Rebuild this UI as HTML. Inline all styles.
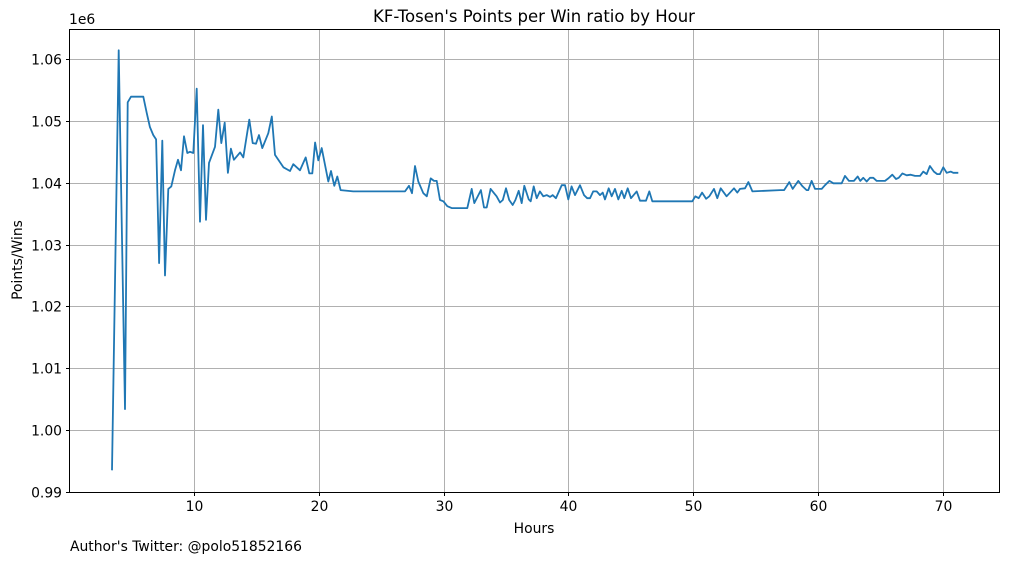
<!DOCTYPE html>
<html><head><meta charset="utf-8"><style>
body{margin:0;background:#fff}
svg text{font-family:"DejaVu Sans","Liberation Sans",sans-serif;fill:#000}
</style></head><body>
<svg id="chart" width="1010" height="562" xmlns="http://www.w3.org/2000/svg">
<rect x="0" y="0" width="1010" height="562" fill="#fff"/>
<g id="grid"></g>
<g id="xticks"></g>
<g id="yticks"></g>
<path id="line" fill="none" stroke="#1f77b4" stroke-width="1.8" stroke-linejoin="round"/>
<rect x="69.5" y="29.5" width="930" height="463" fill="none" stroke="#000" stroke-width="1"/>
<text x="534" y="22" text-anchor="middle" font-size="16.5">KF-Tosen's Points per Win ratio by Hour</text>
<text x="69" y="24" font-size="13.9">1e6</text>
<text x="534" y="533" text-anchor="middle" font-size="13.9">Hours</text>
<text transform="translate(22,260) rotate(-90)" text-anchor="middle" font-size="13.9">Points/Wins</text>
<text x="70" y="551" font-size="13.9">Author's Twitter: @polo51852166</text>
</svg>
<script>
const hours=[3.43,3.97,4.47,4.69,4.95,5.94,6.21,6.47,6.74,6.96,7.20,7.46,7.68,7.94,8.18,8.48,8.72,8.96,9.20,9.46,9.68,9.94,10.22,10.48,10.72,10.96,11.20,11.68,11.95,12.19,12.46,12.72,12.96,13.20,13.69,13.95,14.43,14.70,14.97,15.21,15.47,15.95,16.23,16.49,17.16,17.69,17.96,18.49,18.95,19.24,19.48,19.70,19.96,20.23,20.76,20.98,21.24,21.48,21.75,22.76,26.91,27.23,27.47,27.71,27.97,28.37,28.65,28.97,29.23,29.45,29.71,29.98,30.30,30.65,31.90,32.25,32.46,32.99,33.24,33.45,33.77,34.25,34.52,34.74,35.00,35.26,35.54,35.75,36.02,36.26,36.47,36.82,36.98,37.22,37.46,37.72,37.99,38.26,38.53,38.74,39.00,39.46,39.73,39.99,40.26,40.53,40.93,41.25,41.51,41.73,41.99,42.27,42.53,42.75,42.93,43.23,43.47,43.73,44.00,44.27,44.48,44.75,45.02,45.47,45.74,46.22,46.48,46.72,49.93,50.17,50.44,50.71,51.03,51.29,51.67,51.93,52.20,52.68,53.27,53.53,53.75,54.15,54.42,54.74,56.96,57.28,57.70,57.97,58.42,58.77,59.09,59.22,59.49,59.76,60.30,60.56,60.91,61.23,61.90,62.16,62.48,62.88,63.18,63.39,63.63,63.90,64.17,64.43,64.70,65.37,65.63,65.95,66.25,66.47,66.76,67.11,67.43,67.77,68.17,68.44,68.71,68.97,69.29,69.55,69.77,70.04,70.31,70.63,70.84,71.24];
const ratios=[0.9935,1.0614,1.0034,1.0530,1.0539,1.0539,1.0513,1.0490,1.0477,1.0470,1.0270,1.0468,1.0250,1.0390,1.0394,1.0420,1.0437,1.0420,1.0475,1.0448,1.0450,1.0448,1.0552,1.0337,1.0493,1.0340,1.0432,1.0458,1.0518,1.0464,1.0497,1.0416,1.0455,1.0437,1.0449,1.0441,1.0502,1.0464,1.0463,1.0477,1.0456,1.0480,1.0507,1.0445,1.0425,1.0419,1.0430,1.0420,1.0441,1.0415,1.0415,1.0465,1.0436,1.0456,1.0402,1.0419,1.0395,1.0410,1.0388,1.0386,1.0386,1.0395,1.0383,1.0427,1.0402,1.0383,1.0378,1.0407,1.0403,1.0403,1.0372,1.0370,1.0362,1.0359,1.0359,1.0390,1.0367,1.0388,1.0360,1.0360,1.0390,1.0378,1.0368,1.0372,1.0391,1.0372,1.0364,1.0372,1.0387,1.0367,1.0395,1.0373,1.0370,1.0394,1.0375,1.0386,1.0378,1.0380,1.0377,1.0380,1.0375,1.0396,1.0396,1.0373,1.0394,1.0380,1.0396,1.0380,1.0375,1.0375,1.0386,1.0386,1.0380,1.0384,1.0373,1.0391,1.0378,1.0390,1.0373,1.0387,1.0375,1.0391,1.0375,1.0386,1.0371,1.0371,1.0386,1.0370,1.0370,1.0378,1.0375,1.0384,1.0374,1.0378,1.0390,1.0375,1.0391,1.0378,1.0391,1.0384,1.0390,1.0391,1.0401,1.0386,1.0388,1.0388,1.0401,1.0390,1.0403,1.0394,1.0388,1.0388,1.0403,1.0390,1.0390,1.0396,1.0403,1.0399,1.0399,1.0411,1.0403,1.0403,1.0410,1.0403,1.0408,1.0402,1.0408,1.0408,1.0403,1.0403,1.0407,1.0413,1.0406,1.0408,1.0415,1.0412,1.0413,1.0411,1.0411,1.0418,1.0414,1.0427,1.0418,1.0414,1.0414,1.0425,1.0416,1.0418,1.0416,1.0416];
const xTicks=[10,20,30,40,50,60,70];
const yTicks=[0.99,1.00,1.01,1.02,1.03,1.04,1.05,1.06];
const yTickLabels=["0.99","1.00","1.01","1.02","1.03","1.04","1.05","1.06"];
const NS="http://www.w3.org/2000/svg";
const L=70,R=1000,T=29,B=492;
function xs(h){return 69.2+h*12.48;}
function ys(v){return B-(v-0.99)/0.07*(B-59);}
const grid=document.getElementById('grid'),gx=document.getElementById('xticks'),gy=document.getElementById('yticks');
function mk(tag,attrs,parent){const e=document.createElementNS(NS,tag);for(const k in attrs)e.setAttribute(k,attrs[k]);parent.appendChild(e);return e;}
xTicks.forEach(t=>{
  const x=Math.round(xs(t))+0.5;
  const g=mk('line',{x1:x,x2:x,y1:T,y2:B,stroke:'#b0b0b0','stroke-width':1},grid);
  
  
  const tk=mk('line',{x1:x,x2:x,y1:B,y2:B+4,stroke:'#000'},gx);
  
  
  const tx=mk('text',{x:x,y:B+19,'text-anchor':'middle','font-size':13.9},gx);
  tx.textContent=String(t);
  
  
});
yTicks.forEach((t,i)=>{
  const y=Math.round(ys(t))+0.5;
  const g=mk('line',{x1:L,x2:R,y1:y,y2:y,stroke:'#b0b0b0','stroke-width':1},grid);
  
  
  const tk=mk('line',{x1:L-4,x2:L,y1:y,y2:y,stroke:'#000'},gy);
  
  
  const tx=mk('text',{x:L-8,y:y+5,'text-anchor':'end','font-size':13.9},gy);
  tx.textContent=yTickLabels[i];
  
  
});
document.getElementById('line').setAttribute('d',hours.map((h,i)=>(i?'L':'M')+xs(h).toFixed(1)+','+ys(ratios[i]).toFixed(1)).join(''));
</script>
</body></html>
